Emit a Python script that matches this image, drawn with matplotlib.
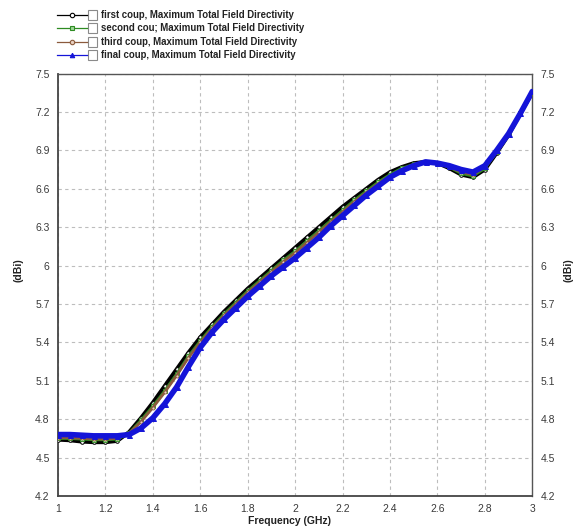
import matplotlib
matplotlib.use("Agg")
import matplotlib.pyplot as plt
from matplotlib.lines import Line2D
from matplotlib.patches import Rectangle

plt.rcParams['font.family'] = ['Liberation Sans', 'DejaVu Sans']

freq = [1.00, 1.05, 1.10, 1.15, 1.20, 1.25, 1.30, 1.35, 1.40, 1.45,
        1.50, 1.55, 1.60, 1.65, 1.70, 1.75, 1.80, 1.85, 1.90, 1.95,
        2.00, 2.05, 2.10, 2.15, 2.20, 2.25, 2.30, 2.35, 2.40, 2.45,
        2.50, 2.55, 2.60, 2.65, 2.70, 2.75, 2.80, 2.85, 2.90, 2.95, 3.00]

first_coup = [4.64, 4.635, 4.625, 4.62, 4.62, 4.63, 4.70, 4.81, 4.93, 5.06,
              5.19, 5.32, 5.44, 5.54, 5.64, 5.73, 5.82, 5.90, 5.98, 6.06,
              6.14, 6.22, 6.30, 6.38, 6.46, 6.53, 6.60, 6.67, 6.73, 6.77,
              6.80, 6.81, 6.80, 6.76, 6.71, 6.69, 6.75, 6.88, 7.02, 7.19, 7.35]

second_coup = [4.65, 4.65, 4.645, 4.64, 4.64, 4.645, 4.69, 4.79, 4.90, 5.02,
               5.15, 5.29, 5.41, 5.52, 5.62, 5.71, 5.80, 5.88, 5.96, 6.04,
               6.11, 6.19, 6.27, 6.35, 6.43, 6.51, 6.58, 6.65, 6.71, 6.76,
               6.79, 6.81, 6.80, 6.77, 6.72, 6.70, 6.76, 6.89, 7.02, 7.19, 7.35]

third_coup = [4.655, 4.655, 4.65, 4.645, 4.645, 4.65, 4.69, 4.78, 4.89, 5.01,
              5.14, 5.28, 5.40, 5.51, 5.61, 5.70, 5.79, 5.87, 5.95, 6.03,
              6.10, 6.18, 6.26, 6.34, 6.42, 6.50, 6.57, 6.64, 6.70, 6.75,
              6.79, 6.81, 6.80, 6.77, 6.73, 6.71, 6.77, 6.89, 7.02, 7.19, 7.35]

final_coup = [4.68, 4.68, 4.675, 4.67, 4.67, 4.67, 4.68, 4.73, 4.81, 4.92,
              5.05, 5.21, 5.36, 5.48, 5.58, 5.67, 5.76, 5.84, 5.92, 5.99,
              6.06, 6.14, 6.22, 6.31, 6.39, 6.47, 6.55, 6.62, 6.69, 6.74,
              6.78, 6.81, 6.80, 6.78, 6.75, 6.73, 6.78, 6.90, 7.03, 7.19, 7.36]

labels = ["first coup, Maximum Total Field Directivity",
          "second cou; Maximum Total Field Directivity",
          "third coup, Maximum Total Field Directivity",
          "final coup, Maximum Total Field Directivity"]

x_ticks = [1, 1.2, 1.4, 1.6, 1.8, 2, 2.2, 2.4, 2.6, 2.8, 3]
x_ticklabels = ["1", "1.2", "1.4", "1.6", "1.8", "2", "2.2", "2.4", "2.6", "2.8", "3"]
y_ticks = [4.2, 4.5, 4.8, 5.1, 5.4, 5.7, 6.0, 6.3, 6.6, 6.9, 7.2, 7.5]
y_ticklabels = ["4.2", "4.5", "4.8", "5.1", "5.4", "5.7", "6", "6.3", "6.6", "6.9", "7.2", "7.5"]

W, H = 577, 528
fig = plt.figure(figsize=(W / 100, H / 100), dpi=100)
ax = fig.add_axes([58 / W, (H - 496.0) / H, (532.3 - 58) / W, (496.0 - 73.5) / H])

styles = [
    dict(color="#000000", lw=2.8, marker="o", ms=2.6, mfc="white", mec="#000000", mew=0.7),
    dict(color="#2e8b22", lw=2.2, marker="s", ms=2.2, mfc="#9fd89a", mec="#2e8b22", mew=0.6),
    dict(color="#8b5a3c", lw=2.0, marker="o", ms=2.2, mfc="#e8d0c0", mec="#8b5a3c", mew=0.6),
    dict(color="#1414d8", lw=4.0, marker="^", ms=3.6, mfc="#1414d8", mec="#1414d8", mew=0.7),
]
series = [first_coup, second_coup, third_coup, final_coup]
for ys, st in zip(series, styles):
    ax.plot(freq, ys, **st, zorder=3, solid_capstyle="round", solid_joinstyle="round")

ax.set_xlim(1, 3)
ax.set_ylim(4.2, 7.5)
ax.set_xticks(x_ticks)
ax.set_xticklabels(x_ticklabels)
ax.set_yticks(y_ticks)
ax.set_yticklabels(y_ticklabels)
ax.tick_params(axis="both", length=0, labelsize=7.5, labelcolor="#3a3a3a", pad=6)
ax.tick_params(axis="y", right=True, labelright=True, left=True, labelleft=True)
ax.grid(True, color="#bdbdbd", linestyle=(0, (3, 3)), linewidth=0.8)
for side in ["left", "bottom"]:
    ax.spines[side].set_color("#444444")
    ax.spines[side].set_linewidth(1.3)
for side in ["top", "right"]:
    ax.spines[side].set_color("#555555")
    ax.spines[side].set_linewidth(1.0)

fig.text(290 / W, 1 - 521 / H, "Frequency (GHz)", ha="center", va="center",
         fontsize=7.5, fontweight="bold", color="#222222")
fig.text(18 / W, 1 - 270 / H, "(dBi)", ha="center", va="center", rotation=90,
         fontsize=7.5, fontweight="bold", color="#222222")
fig.text(569 / W, 1 - 270 / H, "(dBi)", ha="center", va="center", rotation=90,
         fontsize=7.5, fontweight="bold", color="#222222")

# manual legend
row_y = [15, 28.3, 41.7, 54.5]
for yy, lab, st in zip(row_y, labels, styles):
    fy = 1 - yy / H
    ln = Line2D([57 / W, 87 / W], [fy, fy], transform=fig.transFigure,
                color=st["color"], lw=0.9)
    fig.add_artist(ln)
    mk = Line2D([72 / W], [fy], transform=fig.transFigure, color=st["color"],
                marker=st["marker"], ms=3.2, mfc=st["mfc"] if st["marker"] != "^" else st["color"],
                mec=st["mec"], mew=0.8, lw=0)
    fig.add_artist(mk)
    rect = Rectangle((87.5 / W, fy - 5 / H), 9.5 / W, 10 / H, transform=fig.transFigure,
                     facecolor="white", edgecolor="#8a8a8a", lw=0.8)
    fig.add_artist(rect)
    fig.text(101.5 / W, fy, lab, ha="left", va="center", fontsize=6.9,
             fontweight="bold", color="#222222")

fig.savefig("out.png", dpi=100)
